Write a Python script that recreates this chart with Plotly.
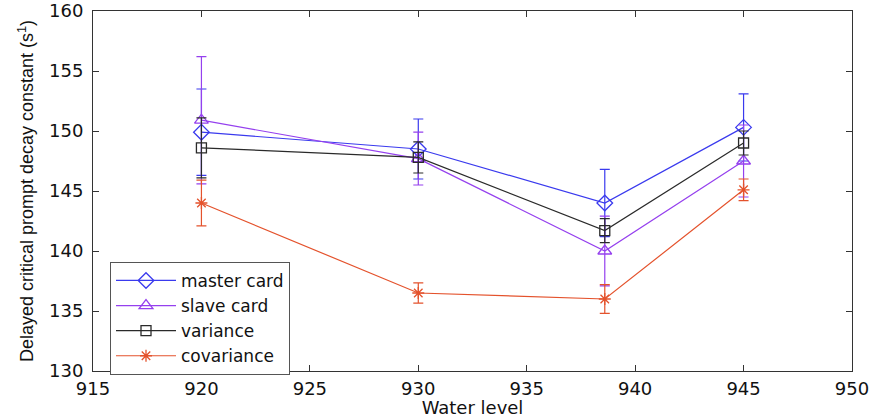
import plotly.graph_objects as go

water_level = [920, 930, 938.6, 945]

master_card = [149.9, 148.5, 144.0, 150.3]
master_err = [3.6, 2.5, 2.8, 2.8]

slave_card = [150.9, 147.7, 140.0, 147.5]
slave_err = [5.3, 2.2, 2.9, 3.0]

variance = [148.6, 147.8, 141.7, 149.0]
variance_err = [2.5, 1.3, 1.0, 1.0]

covariance = [144.0, 136.5, 136.0, 145.1]
covariance_err = [1.9, 0.85, 1.2, 0.9]

series = [
    ("master card", master_card, master_err, "#3a3aee", "diamond-open", 12),
    ("slave card", slave_card, slave_err, "#9540ee", "triangle-up-open", 12),
    ("variance", variance, variance_err, "#2a2a2a", "square-open", 10),
    ("covariance", covariance, covariance_err, "#e4522c", "asterisk-open", 10),
]

fig = go.Figure()
for name, vals, errs, color, sym, size in series:
    fig.add_trace(go.Scatter(
        x=water_level, y=vals, name=name, mode="lines+markers",
        line=dict(color=color, width=1.2),
        marker=dict(symbol=sym, size=size, color=color,
                    line=dict(color=color, width=1.3)),
        error_y=dict(type="data", array=errs, visible=True,
                     color=color, thickness=1.2, width=5),
    ))

axis_common = dict(
    showline=True, linecolor="#333333", linewidth=1, mirror="ticks",
    ticks="inside", ticklen=6, tickcolor="#333333", showgrid=False,
    zeroline=False, automargin=False, ticklabeloverflow="allow",
    tickfont=dict(family="DejaVu Sans", size=18, color="#111111"),
)

fig.update_layout(
    width=872, height=418,
    margin=dict(l=93, r=20, t=11, b=47),
    paper_bgcolor="white", plot_bgcolor="white",
    xaxis=dict(range=[915, 950], dtick=5, tick0=915, ticklabelstandoff=1,
               title=dict(text="Water level", standoff=2,
                          font=dict(family="DejaVu Sans", size=18, color="#111111")),
               **axis_common),
    yaxis=dict(range=[130, 160], dtick=5, tick0=130, ticklabelstandoff=5,
               title=dict(text="Delayed critical prompt decay constant (s<sup>1</sup>)",
                          standoff=10,
                          font=dict(family="Liberation Sans", size=18, color="#111111")),
               **axis_common),
    legend=dict(x=0.0224, y=0.303, xanchor="left", yanchor="top",
                bgcolor="white", bordercolor="#555555", borderwidth=1,
                font=dict(family="DejaVu Sans", size=17, color="#111111"),
                tracegroupgap=0, itemwidth=60),
    showlegend=True,
)

fig.write_html("out.html", config={"displayModeBar": False},
               post_script="document.body.style.margin='0';")
